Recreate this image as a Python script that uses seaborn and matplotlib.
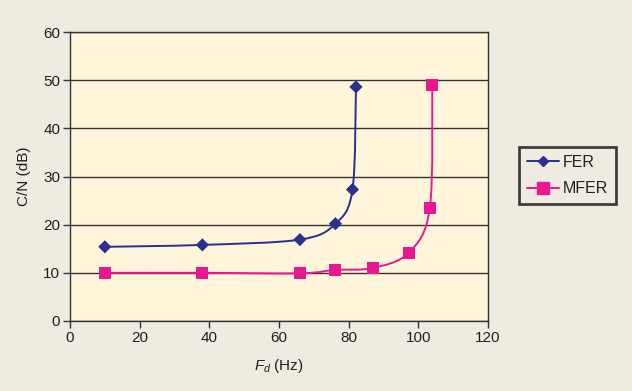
import matplotlib
matplotlib.use("Agg")
import matplotlib.pyplot as plt
from matplotlib.path import Path
from matplotlib.patches import PathPatch
from matplotlib.lines import Line2D
import numpy as np
import pandas as pd
import seaborn as sns

# ----------------------------------------------------------------------
# Data
# ----------------------------------------------------------------------
fer_fd = [10, 38, 66, 76.2, 81.1, 82.1]
fer_cn = [15.4, 15.8, 16.9, 20.2, 27.3, 48.6]

mfer_fd = [10, 38, 66, 76.1, 86.9, 97.3, 103.3, 104.0]
mfer_cn = [10.0, 10.0, 9.9, 10.6, 11.0, 14.2, 23.5, 49.0]

x_ticks = [0, 20, 40, 60, 80, 100, 120]
y_ticks = [0, 10, 20, 30, 40, 50, 60]

FER_COLOR = "#2b2f8f"
MFER_COLOR = "#e8188f"
BG = "#efebe1"
PLOT_BG = "#fff5da"


def smooth_path(xs, ys):
    """Excel-style smoothed line: Catmull-Rom segments as cubic Beziers."""
    p = np.column_stack([xs, ys]).astype(float)
    ext = np.vstack([p[0], p, p[-1]])
    verts = [p[0]]
    codes = [Path.MOVETO]
    for i in range(len(p) - 1):
        p0, p1, p2, p3 = ext[i], ext[i + 1], ext[i + 2], ext[i + 3]
        c1 = p1 + (p2 - p0) / 6.0
        c2 = p2 - (p3 - p1) / 6.0
        verts += [c1, c2, p2]
        codes += [Path.CURVE4] * 3
    return Path(verts, codes)


sns.set_theme(style="white")
plt.rcParams["font.family"] = ["Liberation Sans Narrow", "Liberation Sans", "DejaVu Sans"]
plt.rcParams["mathtext.fontset"] = "custom"
plt.rcParams["mathtext.it"] = "Liberation Sans:italic"
plt.rcParams["mathtext.rm"] = "Liberation Sans"

fig = plt.figure(figsize=(6.32, 3.91), dpi=100, facecolor=BG)
ax = fig.add_axes([70 / 632, 1 - 321 / 391, 418 / 632, 289 / 391])
ax.set_facecolor(PLOT_BG)

df_fer = pd.DataFrame({"Fd": fer_fd, "CN": fer_cn})
df_mfer = pd.DataFrame({"Fd": mfer_fd, "CN": mfer_cn})

ax.add_patch(PathPatch(smooth_path(fer_fd, fer_cn), fill=False,
                       edgecolor=FER_COLOR, lw=1.4, zorder=3))
ax.add_patch(PathPatch(smooth_path(mfer_fd, mfer_cn), fill=False,
                       edgecolor=MFER_COLOR, lw=1.4, zorder=3))

sns.scatterplot(data=df_fer, x="Fd", y="CN", marker="D", s=45,
                color=FER_COLOR, edgecolor="none", ax=ax, zorder=4)
sns.scatterplot(data=df_mfer, x="Fd", y="CN", marker="s", s=75,
                color=MFER_COLOR, edgecolor="none", ax=ax, zorder=4)

ax.set_xlim(0, 120)
ax.set_ylim(0, 60)
ax.set_xticks(x_ticks)
ax.set_yticks(y_ticks)
ax.yaxis.grid(True, color="#333333", lw=1.0)
ax.xaxis.grid(False)
ax.set_axisbelow(True)
for s in ax.spines.values():
    s.set_color("#333333")
    s.set_linewidth(1.0)
ax.tick_params(axis="both", which="major", direction="out", length=5,
               width=1.0, color="#333333", labelsize=11, labelcolor="#231f20",
               pad=2, left=True, bottom=True)

ax.set_xlabel("$F_d$ (Hz)", fontsize=11, color="#231f20", labelpad=9)
ax.set_ylabel("C/N (dB)", fontsize=11, color="#231f20", labelpad=9)

handles = [
    Line2D([], [], color=FER_COLOR, lw=1.4, marker="D", markersize=5.5),
    Line2D([], [], color=MFER_COLOR, lw=1.4, marker="s", markersize=8),
]
leg = fig.legend(handles, ["FER", "MFER"], loc="upper left",
                 bbox_to_anchor=(519 / 632, 1 - 147 / 391), borderaxespad=0,
                 fontsize=11.5, frameon=True, fancybox=False, facecolor=BG,
                 edgecolor="#111111", handlelength=2.0, handletextpad=0.25,
                 borderpad=0.5, labelspacing=0.72)
leg.get_frame().set_linewidth(2.0)
for t in leg.get_texts():
    t.set_color("#231f20")

fig.savefig("out.png", dpi=100, facecolor=BG)
